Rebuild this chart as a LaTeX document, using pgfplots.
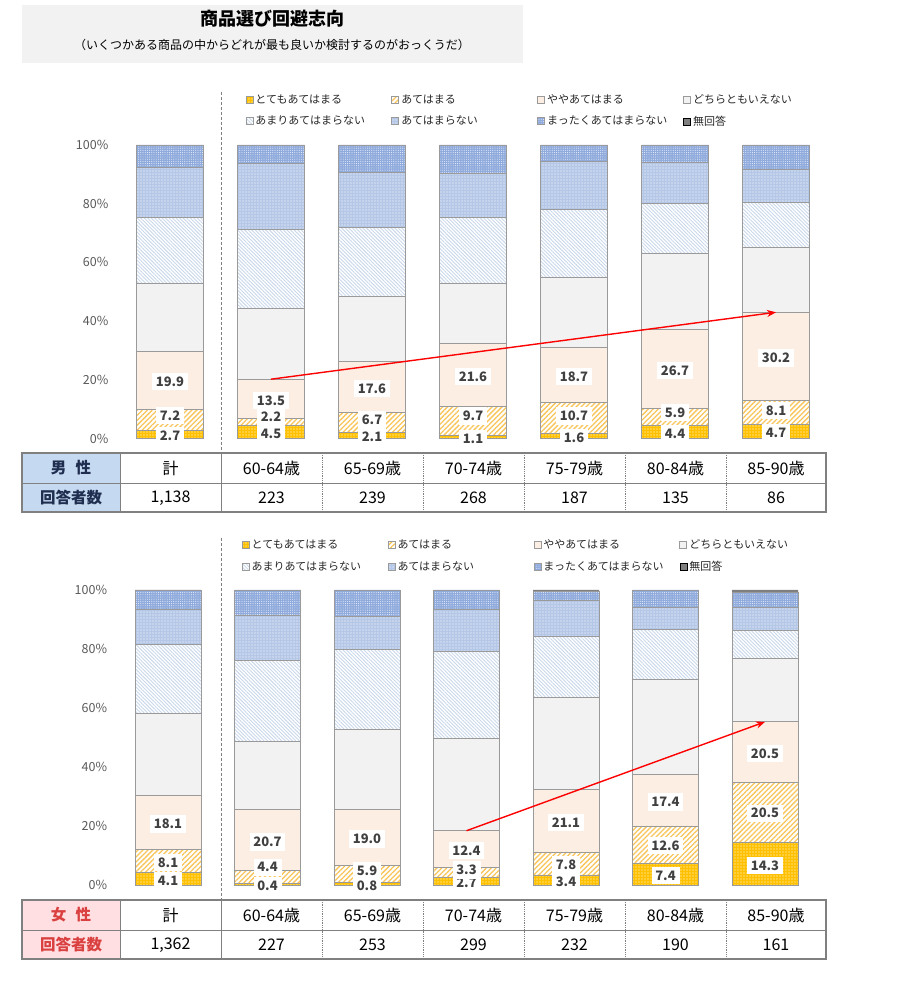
\documentclass[border=0pt]{standalone}
\usepackage{fontspec}
\setmainfont{Noto Sans CJK JP}
\usepackage{pgfplots}
\pgfplotsset{compat=1.18}
\usepackage{pgfplotstable}
\usetikzlibrary{patterns.meta,arrows.meta}

\definecolor{cA}{HTML}{FFC000}
\definecolor{cB}{HTML}{F9C55A}
\definecolor{cC}{HTML}{FCEEE3}
\definecolor{cD}{HTML}{F2F2F2}
\definecolor{cE}{HTML}{C9D8EC}
\definecolor{cF}{HTML}{B4C7E7}
\definecolor{cG}{HTML}{8FAADC}
\definecolor{cH}{HTML}{7F7F7F}
\definecolor{edge}{HTML}{9A9A9A}
\definecolor{lbl}{HTML}{404040}
\definecolor{tickc}{HTML}{595959}
\definecolor{legtext}{HTML}{262626}
\definecolor{gridc}{HTML}{808080}
\definecolor{titlebg}{HTML}{F2F2F2}
\definecolor{mbg}{HTML}{C5D9F1}
\definecolor{mfg}{HTML}{1F2D4F}
\definecolor{fbg}{HTML}{FFDFE2}
\definecolor{ffg}{HTML}{D9403F}

\newcommand\fs[1]{\fontsize{#1}{#1}\selectfont}
\setlength{\fboxsep}{3.8pt}
\def\yunit{2.935}

% 男性 (%); dA dB dC = label nudge in pt (up +)
\pgfplotstableread{
x A B C D E F G H dA dB dC
0 2.7 7.2 19.9 23.0 22.5 17.0 7.7 0.0 -1.5 4.7 -1.5
1 4.5 2.2 13.5 24.1 27.0 22.5 6.2 0.0 -1.5 5.3 -1.5
2 2.1 6.7 17.6 22.1 23.4 18.7 9.4 0.0 -1.5 3.2 -1.5
3 1.1 9.7 21.6 20.4 22.5 15.0 9.7 0.0 -1.5 5.0 -1.5
4 1.6 10.7 18.7 23.9 23.2 16.2 5.7 0.0 -1.5 2.0 -1.5
5 4.4 5.9 26.7 26.1 17.0 13.9 6.0 0.0 -1.5 4.2 -1.5
6 4.7 8.1 30.2 22.1 15.4 11.3 8.2 0.0 -1.5 2.1 -1.5
}\male

% 女性 (%)
\pgfplotstableread{
x A B C D E F G H dA dB dC
0 4.1 8.1 18.1 27.9 23.4 11.8 6.3 0.3 -1.6 -1.7 -1.6
1 0.4 4.4 20.7 23.1 27.6 15.3 8.5 0.0 -1.6 10.0 -1.6
2 0.8 5.9 19.0 27.1 27.1 11.3 8.8 0.0 -1.6 3.0 -1.6
3 2.7 3.3 12.4 31.3 29.5 14.2 6.6 0.0 -1.6 2.2 -1.6
4 3.4 7.8 21.1 31.3 20.6 12.2 3.0 0.6 -1.6 -1.5 -1.6
5 7.4 12.6 17.4 32.3 17.0 7.4 5.9 0.0 -1.6 -1.1 -1.6
6 14.3 20.5 20.5 21.5 9.6 7.7 5.0 0.9 -1.6 -0.7 -1.6
}\female

\pgfplotsset{
  frame/.style={scale only axis, clip=false,
    xmin=-0.5, xmax=6.5, ymin=0, ymax=100},
  bars/.style={frame, ybar stacked,
    xtick=\empty, axis line style={draw=none}, major tick length=0pt,
    ytick={0,20,...,100}, yticklabels={0\%,20\%,40\%,60\%,80\%,100\%},
    yticklabel style={font=\fs{12.5}, text=tickc, inner sep=0pt, xshift=-11pt},
    legend columns=4, legend cell align=left,
    legend image code/.code={\draw[##1] (0pt,-3.5pt) rectangle (7pt,3.5pt);},
    legend style={draw=none, fill=none, anchor=north west, font=\fs{11},
      text=legtext, inner sep=0pt, row sep=7pt,
      /tikz/every even column/.append style={text width=134pt}}},
  % value labels: one plot per series, at the middle of its segment
  labels/.style={frame, hide axis, point meta=explicit,
    nodes near coords={\colorbox{white}{\textcolor{lbl}{\bfseries\fs{13}%
      \pgfmathprintnumber[fixed,fixed zerofill,precision=1,assume math mode=true]{\pgfplotspointmeta}}}},
    nodes near coords align={anchor=center},
    every node near coord/.style={anchor=center, inner sep=0pt}},
  lab/.style={draw=none, mark=none},
  sA/.style={fill=cA, draw=edge, line width=0.9pt,
    postaction={pattern={Dots[radius=0.55pt,distance=3pt]}, pattern color=white}},
  sB/.style={fill=white, draw=edge, line width=0.9pt,
    postaction={pattern={Lines[angle=45,distance=3.5pt,line width=1.3pt]}, pattern color=cB}},
  sC/.style={fill=cC, draw=edge, line width=0.9pt},
  sD/.style={fill=cD, draw=edge, line width=0.9pt},
  sE/.style={fill=white, draw=edge, line width=0.9pt,
    postaction={pattern={Lines[angle=-45,distance=2.5pt,line width=0.9pt]}, pattern color=cE}},
  sF/.style={fill=cF, draw=edge, line width=0.9pt,
    postaction={pattern={Dots[radius=0.6pt,distance=3pt]}, pattern color=white}},
  sG/.style={fill=cG, draw=edge, line width=0.9pt,
    postaction={pattern={Dots[radius=0.45pt,distance=2.2pt]}, pattern color=white}},
  sH/.style={fill=cH, draw=none},
}

\begin{document}
\begin{tikzpicture}

% ---- 男性 ----
\begin{axis}[bars, at={(119.5pt,554.5pt)}, anchor=south west,
  width=707pt, height=293.5pt, bar width=67pt,
  legend style={at={(0.178,1.18)}}]
\addplot[sA] table[x=x,y=A]{\male}; \addlegendentry{とてもあてはまる}
\addplot[sB] table[x=x,y=B]{\male}; \addlegendentry{あてはまる}
\addplot[sC] table[x=x,y=C]{\male}; \addlegendentry{ややあてはまる}
\addplot[sD] table[x=x,y=D]{\male}; \addlegendentry{どちらともいえない}
\addplot[sE] table[x=x,y=E]{\male}; \addlegendentry{あまりあてはまらない}
\addplot[sF] table[x=x,y=F]{\male}; \addlegendentry{あてはまらない}
\addplot[sG] table[x=x,y=G]{\male}; \addlegendentry{まったくあてはまらない}
\addplot[sH] table[x=x,y=H]{\male}; \addlegendentry{無回答}
\end{axis}
\def\yunit{2.935}
\begin{axis}[labels, at={(119.5pt,554.5pt)}, anchor=south west,
  width=707pt, height=293.5pt]
\addplot[lab] table[x=x, y expr={\thisrow{A}/2+\thisrow{dA}/\yunit}, meta=A]{\male};
\addplot[lab] table[x=x, y expr={\thisrow{A}+\thisrow{B}/2+\thisrow{dB}/\yunit}, meta=B]{\male};
\addplot[lab] table[x=x, y expr={\thisrow{A}+\thisrow{B}+\thisrow{C}/2+\thisrow{dC}/\yunit}, meta=C]{\male};
\draw[red, line width=1.4pt, -{Stealth[length=9pt,width=7pt]}]
  (axis cs:1,20.2) -- (axis cs:6,43.0);
\end{axis}

% ---- 女性 ----
\begin{axis}[bars, at={(118.25pt,108pt)}, anchor=south west,
  width=696.5pt, height=295pt, bar width=66pt,
  legend style={at={(0.177,1.177)}}]
\addplot[sA] table[x=x,y=A]{\female}; \addlegendentry{とてもあてはまる}
\addplot[sB] table[x=x,y=B]{\female}; \addlegendentry{あてはまる}
\addplot[sC] table[x=x,y=C]{\female}; \addlegendentry{ややあてはまる}
\addplot[sD] table[x=x,y=D]{\female}; \addlegendentry{どちらともいえない}
\addplot[sE] table[x=x,y=E]{\female}; \addlegendentry{あまりあてはまらない}
\addplot[sF] table[x=x,y=F]{\female}; \addlegendentry{あてはまらない}
\addplot[sG] table[x=x,y=G]{\female}; \addlegendentry{まったくあてはまらない}
\addplot[sH] table[x=x,y=H]{\female}; \addlegendentry{無回答}
\end{axis}
\def\yunit{2.95}
\begin{axis}[labels, at={(118.25pt,108pt)}, anchor=south west,
  width=696.5pt, height=295pt]
\addplot[lab] table[x=x, y expr={\thisrow{A}/2+\thisrow{dA}/\yunit}, meta=A]{\female};
\addplot[lab] table[x=x, y expr={\thisrow{A}+\thisrow{B}/2+\thisrow{dB}/\yunit}, meta=B]{\female};
\addplot[lab] table[x=x, y expr={\thisrow{A}+\thisrow{B}+\thisrow{C}/2+\thisrow{dC}/\yunit}, meta=C]{\female};
\draw[red, line width=1.4pt, -{Stealth[length=9pt,width=7pt]}]
  (axis cs:3,18.4) -- (axis cs:6,55.3);
\end{axis}

% ---- title, separators and tables (pixel coordinates, y down) ----
\begin{scope}[x=1pt, y=-1pt, shift={(0pt,993pt)}]
\fill[titlebg] (22,5) rectangle (523,63);
\node[font=\bfseries\fs{18}] at (272,19) {商品選び回避志向};
\node[font=\fs{12}] at (272,45) {（いくつかある商品の中からどれが最も良いか検討するのがおっくうだ）};

\draw[gridc, line width=0.8pt, dash pattern=on 3pt off 2pt] (221,92) -- (221,453);
\draw[gridc, line width=0.8pt, dash pattern=on 3pt off 2pt] (221,538) -- (221,900);

% 男性 table
\fill[mbg] (22,453) rectangle (120,512);
\draw[gridc, line width=0.8pt] (22,483) -- (826,483);
\draw[gridc, line width=0.8pt] (120,453) -- (120,512) (221,453) -- (221,512);
\foreach \xx in {322,423,524,625,726}
  \draw[gridc, line width=0.8pt, densely dotted] (\xx,453) -- (\xx,512);
\draw[gridc, line width=2pt] (22,453) rectangle (826,512);
\node[font=\bfseries\fs{15.5}, text=mfg] at (71,468) {男\hspace{0.6em}性};
\node[font=\bfseries\fs{15.5}, text=mfg] at (71,498) {回答者数};
\foreach \xx/\lab in {170.5/計,271.5/60-64歳,372.5/65-69歳,473.5/70-74歳,574.5/75-79歳,675.5/80-84歳,776/85-90歳}
  \node[font=\fs{16}] at (\xx,468) {\lab};
\foreach \xx/\lab in {170.5/{1,138},271.5/223,372.5/239,473.5/268,574.5/187,675.5/135,776/86}
  \node[font=\fs{16}] at (\xx,498) {\lab};

% 女性 table
\fill[fbg] (22,900) rectangle (120,959);
\draw[gridc, line width=0.8pt] (22,930) -- (826,930);
\draw[gridc, line width=0.8pt] (120,900) -- (120,959) (221,900) -- (221,959);
\foreach \xx in {322,423,524,625,726}
  \draw[gridc, line width=0.8pt, densely dotted] (\xx,900) -- (\xx,959);
\draw[gridc, line width=2pt] (22,900) rectangle (826,959);
\node[font=\bfseries\fs{15.5}, text=ffg] at (71,915) {女\hspace{0.6em}性};
\node[font=\bfseries\fs{15.5}, text=ffg] at (71,945) {回答者数};
\foreach \xx/\lab in {170.5/計,271.5/60-64歳,372.5/65-69歳,473.5/70-74歳,574.5/75-79歳,675.5/80-84歳,776/85-90歳}
  \node[font=\fs{16}] at (\xx,915) {\lab};
\foreach \xx/\lab in {170.5/{1,362},271.5/227,372.5/253,473.5/299,574.5/232,675.5/190,776/161}
  \node[font=\fs{16}] at (\xx,945) {\lab};
\end{scope}

\pgfresetboundingbox
\path (0pt,0pt) rectangle (898pt,993pt);
\end{tikzpicture}
\end{document}
